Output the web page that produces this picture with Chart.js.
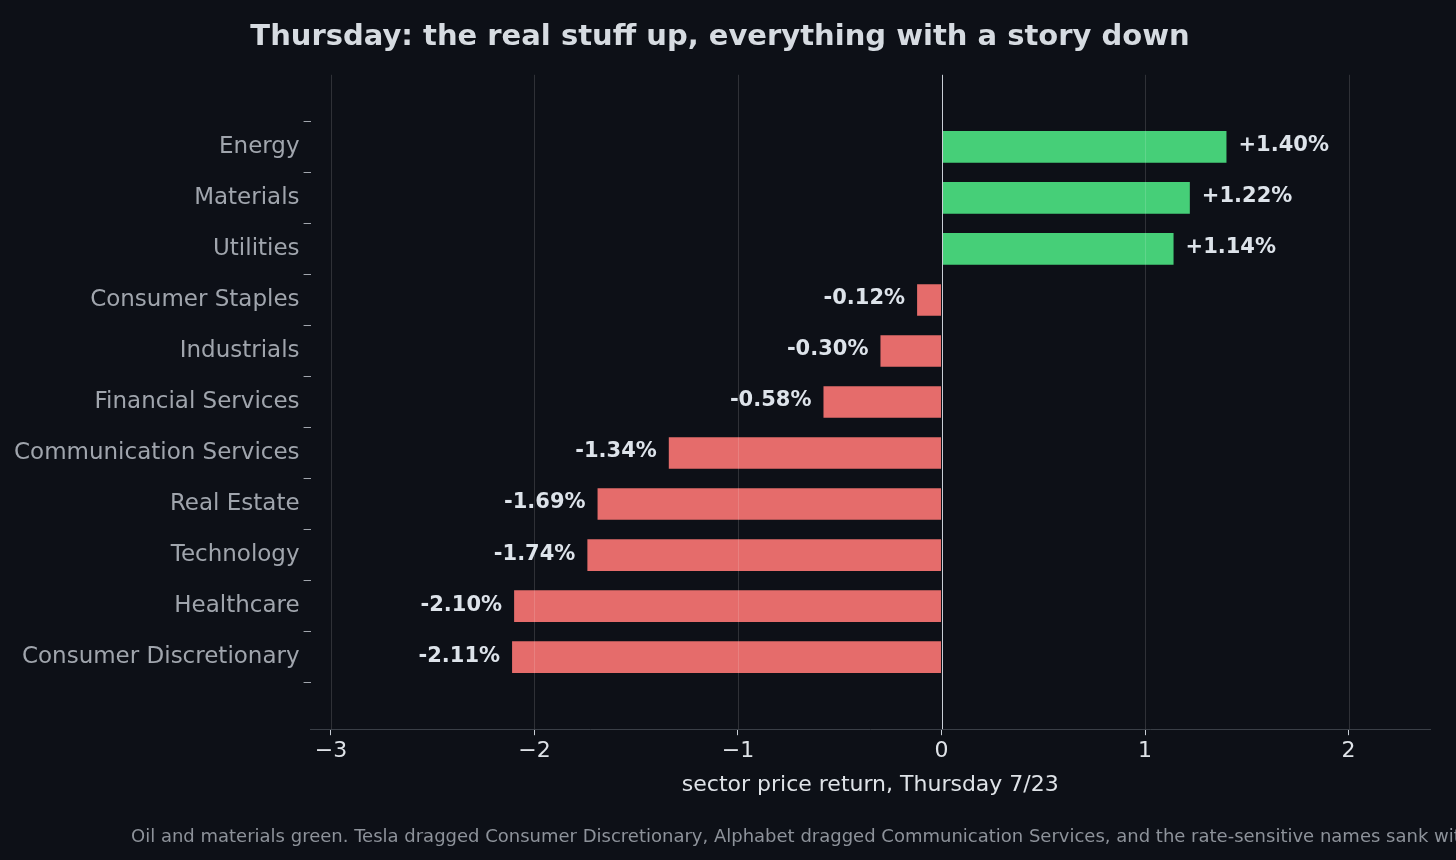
<!DOCTYPE html>
<html>
<head>
<meta charset="utf-8">
<script src="https://cdn.jsdelivr.net/npm/chart.js@4/dist/chart.umd.min.js"></script>
<style>
  html, body { margin: 0; padding: 0; background: #0d1017; overflow: hidden; }
  #wrap { position: absolute; left: 0; top: 0; width: 1456px; height: 860px; }
  #note {
    position: absolute; left: 131px; top: 825px; width: 1325px; white-space: nowrap; overflow: hidden;
    font: 18px "DejaVu Sans", sans-serif; color: #8d929a;
  }
</style>
</head>
<body>
<div id="wrap"><canvas id="c" width="1456" height="860"></canvas></div>
<div id="note">Oil and materials green. Tesla dragged Consumer Discretionary, Alphabet dragged Communication Services, and the rate-sensitive names sank with</div>
<script>
const sectors = ["Energy", "Materials", "Utilities", "Consumer Staples", "Industrials", "Financial Services",
  "Communication Services", "Real Estate", "Technology", "Healthcare", "Consumer Discretionary"];
const returns = [1.40, 1.22, 1.14, -0.12, -0.30, -0.58, -1.34, -1.69, -1.74, -2.10, -2.11];
const xTicks = [-3, -2, -1, 0, 1, 2];

const FONT = "'DejaVu Sans', sans-serif";

const barLabels = {
  id: "barLabels",
  afterDatasetsDraw(chart) {
    const ctx = chart.ctx;
    const meta = chart.getDatasetMeta(0);
    ctx.save();
    ctx.font = "bold 21px " + FONT;
    ctx.fillStyle = "#dde3ea";
    ctx.textBaseline = "middle";
    meta.data.forEach((bar, i) => {
      const v = returns[i];
      const txt = (v > 0 ? "+" : "") + v.toFixed(2) + "%";
      if (v >= 0) { ctx.textAlign = "left"; ctx.fillText(txt, bar.x + 12, bar.y - 1); }
      else { ctx.textAlign = "right"; ctx.fillText(txt, bar.x - 12, bar.y - 1); }
    });
    ctx.restore();
  },
  afterDraw(chart) {
    const ctx = chart.ctx, x = chart.scales.x, a = chart.chartArea;
    ctx.save();
    xTicks.forEach(t => {
      const px = Math.round(x.getPixelForValue(t)) + 0.5;
      ctx.strokeStyle = t === 0 ? "#c9ced6" : "rgba(255,255,255,0.14)";
      ctx.lineWidth = 1;
      ctx.beginPath(); ctx.moveTo(px, a.top); ctx.lineTo(px, a.bottom); ctx.stroke();
    });
    ctx.restore();
  }
};

new Chart(document.getElementById("c"), {
  type: "bar",
  data: {
    datasets: [{
      data: returns.map((v, i) => ({ x: v, y: i })),
      backgroundColor: returns.map(v => v >= 0 ? "#46cf78" : "#e56c6b"),
      barPercentage: 0.62,
      categoryPercentage: 1.0
    }]
  },
  plugins: [barLabels],
  options: {
    indexAxis: "y",
    responsive: false,
    animation: false,
    layout: { padding: { left: 10, right: 26, top: 6, bottom: 58 } },
    plugins: {
      legend: { display: false },
      tooltip: { enabled: false },
      title: {
        display: true,
        text: "Thursday: the real stuff up, everything with a story down",
        color: "#d6dbe1",
        font: { family: FONT, size: 29, weight: "bold" },
        padding: { top: 14, bottom: 20 }
      }
    },
    scales: {
      x: {
        type: "linear",
        min: -3.1, max: 2.4,
        afterBuildTicks(s) { s.ticks = xTicks.map(v => ({ value: v })); },
        ticks: {
          color: "#dfe3e8", font: { family: FONT, size: 22 },
          callback: v => v < 0 ? "\u2212" + Math.abs(v) : String(v)
        },
        grid: { display: true, drawOnChartArea: false, drawTicks: true, tickLength: 6, color: "#c9ced6" },
        border: { color: "#3a3f47" },
        title: {
          display: true, text: "sector price return, Thursday 7/23",
          color: "#dfe3e8", font: { family: FONT, size: 22 }, padding: { top: 4 }
        }
      },
      y: {
        type: "linear",
        reverse: true,
        min: -0.83, max: 10.83,
        afterBuildTicks(s) { s.ticks = sectors.map((_, i) => ({ value: i })); },
        ticks: { color: "#a0a5ad", font: { family: FONT, size: 23 }, padding: 4,
          callback: v => sectors[v] },
        grid: { display: true, drawOnChartArea: false, drawTicks: true, tickLength: 7, color: "#a0a5ad" },
        border: { display: false }
      }
    }
  }
});
</script>
</body>
</html>
